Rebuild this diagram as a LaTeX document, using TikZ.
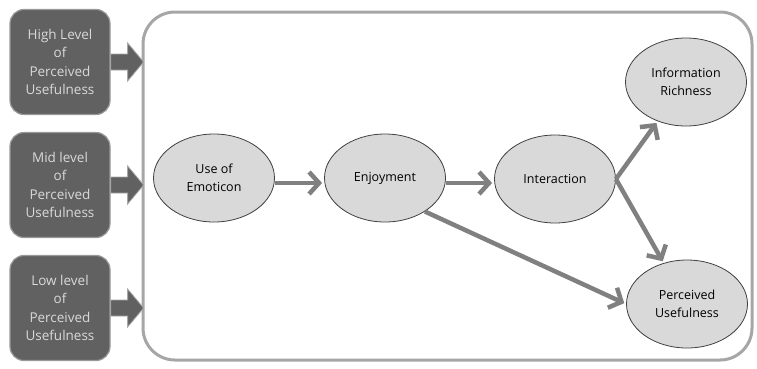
\documentclass[tikz,border=0pt]{standalone}
\usepackage{fontspec}
\setmainfont{Open Sans}
\usetikzlibrary{arrows.meta,shapes.geometric}
\begin{document}
\begin{tikzpicture}[x=1pt,y=-1pt,
 lbox/.style={draw=black!40, line width=1.2pt, fill=black!62, rounded corners=14pt, minimum width=100pt, minimum height=105pt, text=white!85!black, align=center, font=\fontsize{13.5}{18.5}\selectfont, inner sep=0pt},
 barrow/.style={draw=black!35, line width=0.8pt, fill=black!62},
 ell/.style={ellipse, draw=black!75, line width=0.8pt, fill=black!15, minimum width=121pt, minimum height=88pt, align=center, font=\fontsize{12.5}{18}\selectfont, inner sep=0pt},
 conn/.style={draw=black!50, line width=4.5pt, -{Straight Barb[length=10pt,width=22pt]}, shorten >=2pt}
]
\useasboundingbox (0,0) rectangle (757,368);
% outer frame
\draw[draw=black!35, line width=3pt, rounded corners=32pt] (143,12) rectangle (752,360);
% left boxes
\node[lbox] (b1) at (60,62) {High Level\\of\\Perceived\\Usefulness};
\node[lbox] (b2) at (60,185) {Mid level\\of\\Perceived\\Usefulness};
\node[lbox] (b3) at (60,308) {Low level\\of\\Perceived\\Usefulness};
\foreach \b in {b1,b2,b3}{
  \draw[barrow] (\b.east) ++(0,-8) -- ++(17,0) -- ++(0,-11) -- ++(16,19) -- ++(-16,19) -- ++(0,-11) -- ++(-17,0) -- cycle;
}
% ellipses
\node[ell] (uoe) at (214,178) {Use of\\Emoticon};
\node[ell] (enj) at (385,178) {Enjoyment};
\node[ell] (int) at (555,179) {Interaction};
\node[ell] (ir) at (686,82) {Information\\Richness};
\node[ell] (pu) at (687,304) {Perceived\\Usefulness};
% connectors
\draw[conn] (uoe.east) ++(0,5) coordinate (a1) (a1) -- (a1 -| enj.west);
\draw[conn] (enj.east) ++(0,5) coordinate (a2) (a2) -- (a2 -| int.west);
\draw[conn] (int.east) -- (ir);
\draw[conn] (int.east) -- (pu);
\draw[conn] (enj.-40) -- (pu.west);
\end{tikzpicture}
\end{document}
